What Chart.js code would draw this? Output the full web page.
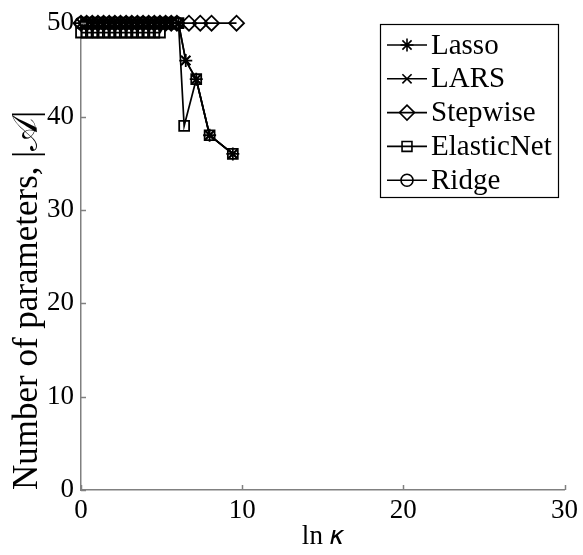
<!DOCTYPE html>
<html>
<head>
<meta charset="utf-8">
<script src="https://cdn.jsdelivr.net/npm/chart.js@4.4.0/dist/chart.umd.min.js"></script>
<style>
  html, body { margin: 0; padding: 0; background: #fff; }
  #wrap { width: 583px; height: 555px; }
</style>
</head>
<body>
<div id="wrap"><canvas id="chart" width="583" height="555"></canvas></div>
<script>
// ln(kappa) values and number of active parameters
var lassoX = [0.00, 0.35, 0.70, 1.05, 1.40, 1.75, 2.10, 2.45, 2.80, 3.15, 3.50, 3.85, 4.20, 4.55, 4.90, 5.25, 5.60, 6.05, 6.50, 7.15, 7.98, 9.42];
var lassoY = [50, 50, 50, 50, 50, 50, 50, 50, 50, 50, 50, 50, 50, 50, 50, 50, 50, 50, 46, 44, 38, 36];

var larsX = [0.00, 0.35, 0.70, 1.05, 1.40, 1.75, 2.10, 2.45, 2.80, 3.15, 3.50, 3.85, 4.20, 4.55, 4.90, 5.25, 5.60, 6.05, 6.50, 7.15, 7.98, 9.42];
var larsY = [50, 50, 50, 50, 50, 50, 50, 50, 50, 50, 50, 50, 50, 50, 50, 50, 50, 50, 46, 44, 38, 36];

var stepwiseX = [0.00, 0.35, 0.70, 1.05, 1.40, 1.75, 2.10, 2.45, 2.80, 3.15, 3.50, 3.85, 4.20, 4.55, 4.90, 5.25, 5.60, 5.95, 6.70, 7.40, 8.10, 9.65];
var stepwiseY = [50, 50, 50, 50, 50, 50, 50, 50, 50, 50, 50, 50, 50, 50, 50, 50, 50, 50, 50, 50, 50, 50];

var elasticX = [0.00, 0.35, 0.70, 1.05, 1.40, 1.75, 2.10, 2.45, 2.80, 3.15, 3.50, 3.85, 4.20, 4.55, 4.90, 5.25, 5.60, 6.05, 6.40, 7.15, 7.98, 9.42];
var elasticY = [49, 49, 49, 49, 49, 49, 49, 49, 49, 49, 49, 49, 49, 49, 49, 50, 50, 50, 39, 44, 38, 36];

var ridgeX = [0.00, 0.35, 0.70, 1.05, 1.40, 1.75, 2.10, 2.45, 2.80, 3.15, 3.50, 3.85, 4.20, 4.55, 4.90, 5.25, 5.60, 5.95];
var ridgeY = [50, 50, 50, 50, 50, 50, 50, 50, 50, 50, 50, 50, 50, 50, 50, 50, 50, 50];

var xTicks = [0, 10, 20, 30];
var yTicks = [0, 10, 20, 30, 40, 50];

var serif = "'Liberation Serif', 'Times New Roman', serif";
var axisGray = '#808080';

function pts(xs, ys) {
    var out = [];
    for (var i = 0; i < xs.length; i++) {
        out.push({ x: xs[i], y: ys[i] });
    }
    return out;
}

function series(label, xs, ys, style, radius) {
    return {
        label: label,
        data: pts(xs, ys),
        borderColor: '#000',
        borderWidth: 1.7,
        pointStyle: style,
        pointRadius: radius,
        pointBorderColor: '#000',
        pointBackgroundColor: 'rgba(0,0,0,0)',
        pointBorderWidth: 1.8,
        tension: 0,
        clip: false
    };
}

var datasets = [
    series('Lasso', lassoX, lassoY, 'star', 6.5),
    series('LARS', larsX, larsY, 'crossRot', 6.5),
    series('Stepwise', stepwiseX, stepwiseY, 'rectRot', 7.5),
    series('ElasticNet', elasticX, elasticY, 'rect', 7),
    series('Ridge', ridgeX, ridgeY, 'circle', 6)
];

// short inward tick marks, like the original axes
var innerTicks = {
    id: 'innerTicks',
    afterDraw: function (chart) {
        var ctx = chart.ctx;
        var xs = chart.scales.x, ys = chart.scales.y;
        var area = chart.chartArea;
        ctx.save();
        ctx.strokeStyle = axisGray;
        ctx.lineWidth = 1.5;
        xTicks.forEach(function (v) {
            var px = Math.round(xs.getPixelForValue(v)) + 0.5;
            ctx.beginPath();
            ctx.moveTo(px, area.bottom);
            ctx.lineTo(px, area.bottom - 5);
            ctx.stroke();
        });
        yTicks.forEach(function (v) {
            var py = Math.round(ys.getPixelForValue(v)) + 0.5;
            ctx.beginPath();
            ctx.moveTo(area.left, py);
            ctx.lineTo(area.left + 5, py);
            ctx.stroke();
        });
        ctx.restore();
    }
};

// boxed legend with line + marker samples
var boxLegend = {
    id: 'boxLegend',
    afterDraw: function (chart) {
        var ctx = chart.ctx;
        var left = 380, top = 24, w = 178, h = 173;
        var rowH = 33.8, firstRow = 45;
        ctx.save();
        ctx.fillStyle = '#fff';
        ctx.fillRect(left, top, w, h);
        ctx.strokeStyle = '#000';
        ctx.lineWidth = 1.2;
        ctx.strokeRect(left + 0.5, top + 0.5, w, h);
        chart.data.datasets.forEach(function (ds, i) {
            var y = firstRow + i * rowH;
            ctx.strokeStyle = '#000';
            ctx.lineWidth = 1.6;
            ctx.beginPath();
            ctx.moveTo(387, y);
            ctx.lineTo(427, y);
            ctx.stroke();
            ctx.fillStyle = 'rgba(0,0,0,0)';
            ctx.lineWidth = 1.6;
            Chart.helpers.drawPoint(ctx, {
                pointStyle: ds.pointStyle,
                radius: ds.pointRadius,
                rotation: 0,
                borderWidth: 1.6
            }, 407, y);
            ctx.fillStyle = '#000';
            ctx.font = '29px ' + serif;
            ctx.textBaseline = 'middle';
            ctx.textAlign = 'left';
            ctx.fillText(ds.label, 431, y + 1);
        });
        ctx.restore();
    }
};

new Chart(document.getElementById('chart'), {
    type: 'line',
    data: { datasets: datasets },
    options: {
        responsive: false,
        animation: false,
        events: [],
        layout: { padding: { top: 16, right: 17, left: 0, bottom: 0 } },
        plugins: {
            legend: { display: false },
            tooltip: { enabled: false }
        },
        scales: {
            x: {
                type: 'linear',
                min: 0,
                max: 30,
                afterFit: function (s) { s.height = 65; },
                afterBuildTicks: function (s) { s.ticks = xTicks.map(function (v) { return { value: v }; }); },
                grid: { display: false, drawTicks: false },
                border: { display: true, color: axisGray, width: 1.5 },
                ticks: { color: '#000', font: { family: serif, size: 27 }, padding: 5, maxRotation: 0 },
                title: {
                    display: true,
                    text: 'ln \u{1D705}',
                    color: '#000',
                    font: { family: serif, size: 27 },
                    padding: { top: 0, bottom: 2 }
                }
            },
            y: {
                type: 'linear',
                min: 0,
                max: 50,
                afterFit: function (s) { s.width = 81; },
                afterBuildTicks: function (s) { s.ticks = yTicks.map(function (v) { return { value: v }; }); },
                grid: { display: false, drawTicks: false },
                border: { display: true, color: axisGray, width: 1.5 },
                ticks: { color: '#000', font: { family: serif, size: 27 }, padding: 7 },
                title: {
                    display: true,
                    text: 'Number of parameters, |\u{1D49C}|',
                    align: 'start',
                    color: '#000',
                    font: { family: serif, size: 35 },
                    padding: { top: 7, bottom: 0 }
                }
            }
        }
    },
    plugins: [innerTicks, boxLegend]
});
</script>
</body>
</html>
